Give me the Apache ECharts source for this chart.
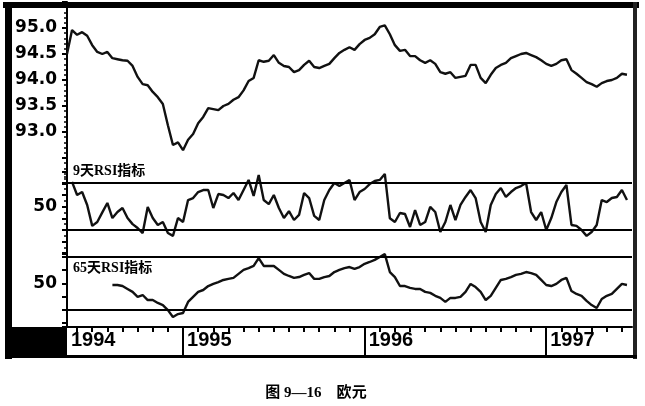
<!DOCTYPE html>
<html>
<head>
<meta charset="UTF-8">
<title>图 9-16 欧元</title>
<script src="https://cdn.jsdelivr.net/npm/echarts@6/dist/echarts.min.js"></script>
<style>
html, body { margin: 0; padding: 0; background: #fff; }
#main { width: 645px; height: 406px; }
</style>
</head>
<body>
<div id="main"></div>
<script>
// one sample on the 1st, 11th and 21st of every month, May 1994 - June 1997
var dates = [];
for (var y = 1994; y <= 1997; y++) {
	for (var m = 1; m <= 12; m++) {
		[1, 11, 21].forEach(function (d) {
			var s = y + '-' + (m < 10 ? '0' : '') + m + '-' + (d < 10 ? '0' : '') + d;
			if (s >= '1994-05-11' && s <= '1997-06-21') dates.push(s);
		});
	}
}

// 欧元 price
var price = [94.5, 94.96, 94.87, 94.92, 94.85, 94.67, 94.54, 94.5, 94.54, 94.42,
	94.4, 94.38, 94.37, 94.27, 94.06, 93.92, 93.9, 93.77, 93.67, 93.54,
	93.13, 92.75, 92.8, 92.65, 92.85, 92.96, 93.17, 93.29, 93.46, 93.44,
	93.42, 93.5, 93.54, 93.62, 93.67, 93.8, 93.98, 94.04, 94.38, 94.35,
	94.37, 94.48, 94.33, 94.27, 94.25, 94.15, 94.19, 94.29, 94.37, 94.25,
	94.23, 94.27, 94.31, 94.42, 94.52, 94.58, 94.63, 94.58, 94.69, 94.77,
	94.81, 94.88, 95.02, 95.05, 94.88, 94.67, 94.56, 94.58, 94.46, 94.46,
	94.38, 94.33, 94.38, 94.31, 94.15, 94.12, 94.15, 94.04, 94.06, 94.08,
	94.29, 94.29, 94.04, 93.94, 94.1, 94.23, 94.29, 94.33, 94.42, 94.46,
	94.5, 94.52, 94.48, 94.44, 94.38, 94.31, 94.27, 94.31, 94.38, 94.4,
	94.19, 94.12, 94.04, 93.96, 93.92, 93.87, 93.94, 93.98, 94.0, 94.04,
	94.12, 94.1];

// 9天RSI
var rsi9 = [null, 71, 59.8, 62.3, 51.3, 33.5, 36.8, 45, 53, 40.2,
	45.3, 48.7, 40.2, 35, 31.7, 27.4, 49.6, 40.2, 34.3, 36.8,
	27.4, 25, 40.2, 36.8, 55.5, 57.2, 62.3, 64, 64, 48.7,
	60.6, 59.8, 57.2, 61.5, 55.5, 64, 72.6, 59, 76.8, 55.5,
	52, 59.8, 48.7, 40.2, 46, 38.5, 42.8, 61.5, 57.2, 42,
	38.5, 55.5, 64, 70, 67.4, 70, 72.6, 55.5, 62.3, 64.9,
	69.1, 71.7, 72.6, 77.7, 40, 36.8, 44.5, 43.6, 32.6, 47,
	34.3, 36.8, 49.6, 45.3, 28.3, 36.8, 51.3, 38.5, 51.3, 58.1,
	64, 57.2, 36.8, 28.3, 51.3, 60.6, 65.7, 58.1, 62.3, 65.7,
	67.4, 70, 45.3, 38.5, 45.3, 30, 40.2, 53.8, 62.3, 68.3,
	34.3, 33.5, 30, 25, 28.3, 34.3, 55.5, 53.8, 57.2, 58.1,
	64, 55.5];

// 65天RSI
var rsi65 = [null, null, null, null, null, null, null, null, null, 49.4,
	49.4, 49, 47.9, 46.8, 44.9, 45.6, 43.7, 43.7, 42.6, 41.8,
	39.9, 37.3, 38.4, 38.8, 43, 44.9, 46.8, 47.5, 49, 49.8,
	50.5, 51.3, 51.7, 52.1, 53.6, 55.1, 55.8, 56.6, 59.6, 56.6,
	56.6, 56.6, 55.1, 53.6, 52.8, 52.1, 52.4, 53.2, 53.9, 51.7,
	51.7, 52.4, 52.8, 54.3, 55.1, 55.8, 56.2, 55.5, 56.2, 57.4,
	58.1, 58.9, 60, 61.1, 54.3, 52.4, 49, 49, 48.3, 47.9,
	47.9, 46.8, 46.4, 45.3, 44.5, 43, 44.5, 44.5, 44.9, 46.8,
	49.8, 48.6, 46.8, 43.7, 45.3, 48.3, 51.3, 51.7, 52.4, 53.2,
	53.6, 54.3, 53.9, 53.2, 51.3, 49.4, 49, 49.8, 51.3, 52.1,
	47.1, 46, 45.3, 43.4, 41.8, 40.7, 44.1, 45.3, 46, 47.9,
	49.8, 49.4];

var priceLabels = [93, 93.5, 94, 94.5, 95];
var rsi9Bands = [70, 30];
var rsi65Bands = [60, 40];

var isYearStart = function (i, v) { return /-01-01$/.test(v); };
var isMonthStart = function (i, v) { return /-01$/.test(v); };

var labelFont = "'DejaVu Sans', sans-serif";
var cnFont = "'Liberation Serif', 'Noto Sans CJK SC', serif";

function hiddenX(grid) {
	return {
		gridIndex: grid, type: 'category', data: dates, boundaryGap: false, show: false
	};
}

function bandLine(vals) {
	return {
		silent: true, symbol: ['none', 'none'], animation: false,
		label: { show: false },
		lineStyle: { color: '#000', width: 2, type: 'solid' },
		data: vals.map(function (v) { return { yAxis: v }; })
	};
}

function leftAxis(grid, opt) {
	var base = {
		gridIndex: grid, type: 'value', position: 'left',
		splitLine: { show: false },
		axisLine: { show: true, lineStyle: { color: '#000', width: 2 } },
		axisTick: { show: true, length: 5, lineStyle: { color: '#000', width: 2 } },
		minorTick: { show: true, length: 3, lineStyle: { color: '#000', width: 1.5 } },
		axisLabel: {
			color: '#000', fontFamily: labelFont, fontWeight: 'bold', fontSize: 17, margin: 10
		}
	};
	return Object.assign(base, opt);
}

var lineStyle = { color: '#111', width: 2.4 };

var chart = echarts.init(document.getElementById('main'));
chart.setOption({
	backgroundColor: '#fff',
	animation: false,
	grid: [
		{ left: 67, right: 13, top: 2, height: 182 },
		{ left: 67, right: 13, top: 171.25, height: 82.25 },
		{ left: 67, right: 13, top: 253, height: 74 }
	],
	xAxis: [
		hiddenX(0),
		hiddenX(1),
		{
			gridIndex: 2, type: 'category', data: dates, boundaryGap: false,
			axisLine: { show: true, lineStyle: { color: '#000', width: 2 } },
			axisTick: { show: true, interval: isMonthStart, length: 5, lineStyle: { color: '#000', width: 2 } },
			axisLabel: {
				interval: function (i, v) { return i === 0 || isYearStart(i, v); },
				formatter: function (v) { return v.slice(0, 4); },
				align: 'left', padding: [0, 0, 0, 4], margin: 3,
				color: '#000', fontFamily: "'Liberation Sans Narrow', 'Liberation Sans', sans-serif",
				fontWeight: 'bold', fontSize: 20
			}
		},
		{
			gridIndex: 2, type: 'category', data: dates, boundaryGap: false, position: 'bottom',
			axisLine: { show: false },
			axisTick: { show: true, interval: isYearStart, length: 28, lineStyle: { color: '#000', width: 2 } },
			axisLabel: { show: false }
		}
	],
	yAxis: [
		leftAxis(0, {
			min: 92, max: 95.5, interval: 0.5,
			minorTick: { show: true, splitNumber: 5, length: 3, lineStyle: { color: '#000', width: 1.5 } },
			axisLabel: {
				color: '#000', fontFamily: labelFont, fontWeight: 'bold', fontSize: 17, margin: 10,
				formatter: function (v) { return priceLabels.indexOf(v) >= 0 ? v.toFixed(1) : ''; }
			}
		}),
		leftAxis(1, {
			min: 10, max: 80, interval: 10,
			minorTick: { show: true, splitNumber: 2, length: 3, lineStyle: { color: '#000', width: 1.5 } },
			axisLabel: {
				color: '#000', fontFamily: labelFont, fontWeight: 'bold', fontSize: 17, margin: 10,
				formatter: function (v) { return v === 50 ? '50' : ''; }
			}
		}),
		leftAxis(2, {
			min: 33.5, max: 61.5,
			minorTick: { show: false },
			axisLabel: {
				color: '#000', fontFamily: labelFont, fontWeight: 'bold', fontSize: 17, margin: 10,
				formatter: function (v) { return v === 50 ? '50' : ''; }
			}
		})
	],
	series: [
		{
			name: '欧元', type: 'line', xAxisIndex: 0, yAxisIndex: 0, data: price,
			showSymbol: false, lineStyle: lineStyle
		},
		{
			name: '9天RSI指标', type: 'line', xAxisIndex: 1, yAxisIndex: 1, data: rsi9,
			showSymbol: false, lineStyle: lineStyle, markLine: bandLine(rsi9Bands)
		},
		{
			name: '65天RSI指标', type: 'line', xAxisIndex: 2, yAxisIndex: 2, data: rsi65,
			showSymbol: false, lineStyle: lineStyle, markLine: bandLine(rsi65Bands)
		}
	],
	graphic: [
		{ type: 'text', left: 73, top: 164, z: 50,
			style: { text: '9天RSI指标', font: 'bold 14px ' + cnFont, fill: '#000' } },
		{ type: 'text', left: 73, top: 261, z: 50,
			style: { text: '65天RSI指标', font: 'bold 14px ' + cnFont, fill: '#000' } },
		// frame
		{ type: 'rect', z: 100, shape: { x: 3, y: 2, width: 636, height: 6 }, style: { fill: '#000' } },
		{ type: 'rect', z: 100, shape: { x: 5, y: 2, width: 7, height: 357 }, style: { fill: '#000' } },
		{ type: 'rect', z: 100, shape: { x: 633, y: 2, width: 4, height: 357 }, style: { fill: '#222' } },
		{ type: 'rect', z: 100, shape: { x: 5, y: 355, width: 632, height: 3 }, style: { fill: '#000' } },
		{ type: 'rect', z: 100, shape: { x: 5, y: 327, width: 62, height: 31 }, style: { fill: '#000' } },
		// caption
		{ type: 'text', z: 50, x: 316, y: 393,
			style: { text: '图 9—16    欧元', font: 'bold 15px ' + cnFont, fill: '#000',
				textAlign: 'center', textVerticalAlign: 'middle' } }
	]
});
</script>
</body>
</html>
